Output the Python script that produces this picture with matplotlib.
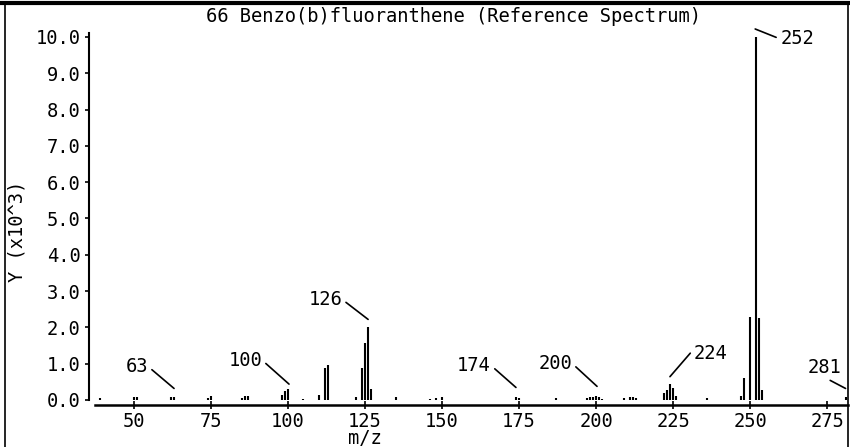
import matplotlib.pyplot as plt
from matplotlib.lines import Line2D
from matplotlib.transforms import offset_copy

plt.rcParams['font.family'] = ['DejaVu Sans Mono']

# mass spectrum: m/z and abundance (x10^3)
mz = [39, 50, 51, 62, 63, 74, 75, 85, 86, 87, 98, 99, 100, 105, 110,
      112, 113, 122, 124, 125, 126, 127, 135, 146, 148, 150, 174, 175,
      187, 197, 198, 199, 200, 201, 202, 209, 211, 212, 213,
      222, 223, 224, 225, 226, 236, 247, 248, 250, 252, 253, 254, 281]
abund = [0.06, 0.07, 0.07, 0.07, 0.07, 0.06, 0.12, 0.05, 0.12, 0.10,
         0.15, 0.25, 0.30, 0.04, 0.14,
         0.88, 0.97, 0.07, 0.88, 1.58, 2.00, 0.30, 0.08, 0.04, 0.05, 0.07,
         0.07, 0.05, 0.05, 0.05, 0.08, 0.07, 0.10, 0.08, 0.04,
         0.05, 0.07, 0.08, 0.05,
         0.20, 0.28, 0.45, 0.33, 0.10, 0.06, 0.12, 0.60, 2.30, 10.0, 2.27,
         0.28, 0.07]

peak_labels = [63, 100, 126, 174, 200, 224, 252, 281]
x_ticks = [50, 75, 100, 125, 150, 175, 200, 225, 250, 275]
y_ticks = [0, 1, 2, 3, 4, 5, 6, 7, 8, 9, 10]

title = "66 Benzo(b)fluoranthene (Reference Spectrum)"

# label placement: (line tip offset from peak top, text offset from tip, ha, relpos) in pixels
label_layout = {
    63:  ((0, 9), (-26, 22), 'right', (1, 0.5)),
    100: ((1, 5), (-27, 24), 'right', (1, 0.5)),
    126: ((0, 8), (-26, 20), 'right', (1, 0.5)),
    174: ((0, 10), (-25, 22), 'right', (1, 0.5)),
    200: ((1, 10), (-25, 23), 'right', (1, 0.5)),
    224: ((0, 7), (24, 23), 'left', (0, 0.75)),
    252: ((-1, 8), (25, -10), 'left', (0, 0.5)),
    281: ((0, 9), (-38, 21), 'left', (0.05, 0.4)),
}

fs = 13.5

fig = plt.figure(figsize=(8.5, 4.47), dpi=100)
ax = fig.add_axes([89 / 850, 1 - 405 / 447, 759 / 850, 372 / 447])

ax.vlines(mz, 0, abund, color='black', lw=1.5)

ax.set_xlim(35.39, 281.8)
ax.set_ylim(-0.138, 10.11)

for s in ['top', 'right']:
    ax.spines[s].set_visible(False)
ax.spines['left'].set_bounds(0, 10.11)
ax.spines['bottom'].set_bounds(37.5, 281.8)
ax.spines['left'].set_linewidth(1.5)
ax.spines['bottom'].set_linewidth(1.8)

ax.set_xticks(x_ticks)
ax.set_yticks(y_ticks)
ax.set_yticklabels([f"{v:.1f}" for v in y_ticks])
ax.tick_params(axis='y', direction='out', length=3, width=1.2, pad=3, labelsize=fs)
ax.tick_params(axis='x', direction='inout', length=6, width=1.2, pad=2, labelsize=fs)

ax.set_xlabel("m/z", fontsize=fs)
ax.xaxis.set_label_coords((365 - 89) / 759, -0.065)
ax.set_ylabel("Y (x10^3)", fontsize=fs)
ax.yaxis.set_label_coords(-(89 - 27) / 759, 0.468)

fig.text(454 / 850, 1 - 17 / 447, title, ha='center', va='center', fontsize=fs)

for m in peak_labels:
    h = abund[mz.index(m)]
    tip, txt, ha, rel = label_layout[m]
    tr = offset_copy(ax.transData, fig=fig, x=tip[0], y=tip[1], units='dots')
    ax.annotate(str(m), xy=(m, h), xycoords=tr, xytext=txt,
                textcoords='offset pixels', ha=ha, va='center', fontsize=fs,
                arrowprops=dict(arrowstyle='-', lw=1.2, color='black',
                                shrinkA=1, shrinkB=0, relpos=rel))

# page frame
fig.add_artist(Line2D([0, 1], [1 - 3 / 447] * 2, color='black', lw=3))
fig.add_artist(Line2D([5 / 850] * 2, [0, 1 - 3 / 447], color='black', lw=1.2))
fig.add_artist(Line2D([848 / 850] * 2, [0, 1 - 3 / 447], color='black', lw=1.2))

fig.savefig("out.png", dpi=100)
